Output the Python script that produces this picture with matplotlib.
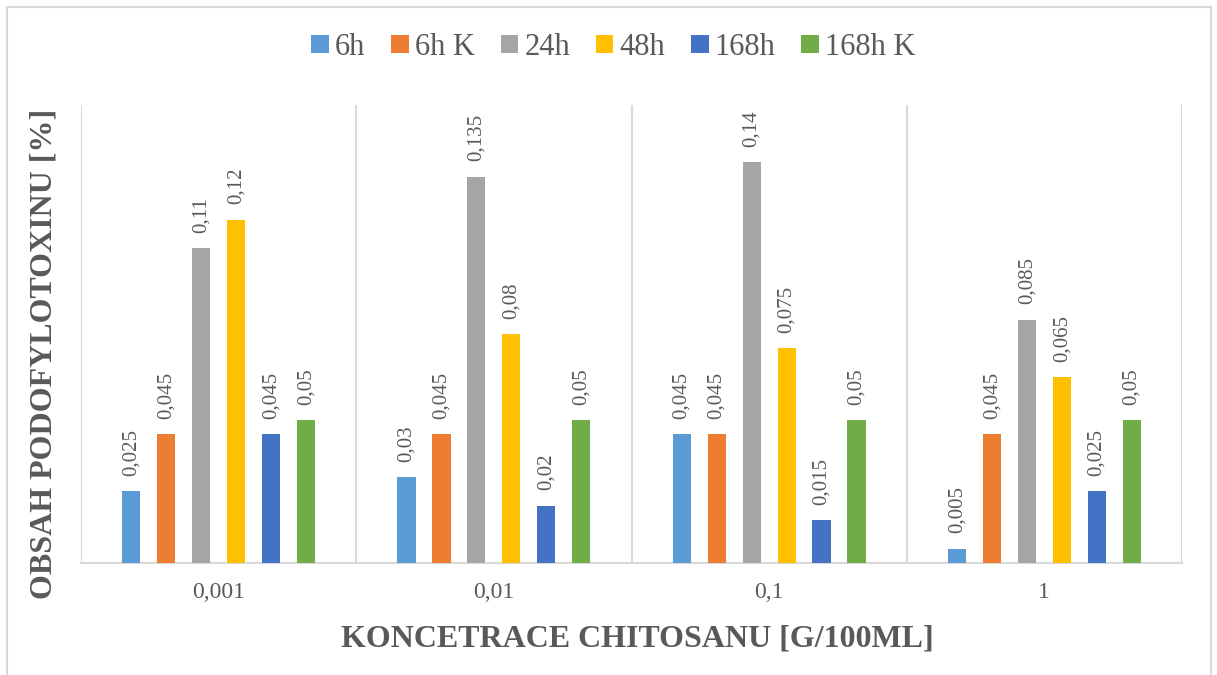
import matplotlib.pyplot as plt
import matplotlib.patches as mpatches
import numpy as np

plt.rcParams['font.family'] = ['Liberation Serif', 'DejaVu Serif']

# concentrations of chitosan (g/100ml)
categories = ['0,001', '0,01', '0,1', '1']
series = ['6h', '6h K', '24h', '48h', '168h', '168h K']

v_6h = [0.025, 0.03, 0.045, 0.005]
v_6hk = [0.045, 0.045, 0.045, 0.045]
v_24h = [0.11, 0.135, 0.14, 0.085]
v_48h = [0.12, 0.08, 0.075, 0.065]
v_168h = [0.045, 0.02, 0.015, 0.025]
v_168hk = [0.05, 0.05, 0.05, 0.05]

values = [v_6h, v_6hk, v_24h, v_48h, v_168h, v_168hk]
colors = ['#5B9BD5', '#ED7D31', '#A5A5A5', '#FFC000', '#4472C4', '#70AD47']
txt = '#595959'
grid = '#D9D9D9'

fig = plt.figure(figsize=(12.17, 6.75), dpi=100)
ax = fig.add_axes([0.0666, 0.1659, 0.9046, 0.6785])

# outer chart frame
fig.patches.append(mpatches.Rectangle((7 / 1217, -0.02), 1204 / 1217, 1.02 - 7 / 675,
                                      transform=fig.transFigure, fill=False,
                                      edgecolor=grid, linewidth=1.5))

x = np.arange(len(categories)) + 0.5
step = 0.127
width = 0.066

for i, (name, vals, c) in enumerate(zip(series, values, colors)):
    pos = x + (i - 2.5) * step
    ax.bar(pos, vals, width, color=c, label=name, linewidth=0, zorder=3)
    for xp, v in zip(pos, vals):
        ax.annotate(str(v).replace('.', ','), (xp, v), xytext=(0, 11),
                    textcoords='offset points', rotation=90, ha='center',
                    va='bottom', fontsize=15, color=txt)

ax.set_xlim(0, 4)
ax.set_ylim(0, 0.16)
ax.set_yticks([])
ax.set_xticks(x)
ax.set_xticklabels(categories, fontsize=17, color=txt)
ax.tick_params(axis='x', length=0, pad=14)

# vertical separators between concentration groups
for xv in range(5):
    ax.axvline(xv, color=grid, linewidth=1.5, zorder=1)

for s in ['top', 'right', 'left']:
    ax.spines[s].set_visible(False)
ax.spines['bottom'].set_color(grid)
ax.spines['bottom'].set_linewidth(1.5)

fig.text(0.524, 0.054, 'KONCETRACE CHITOSANU [G/100ML]', ha='center', va='center',
         fontsize=23, fontweight='bold', color=txt)
fig.text(0.036, 0.476, 'OBSAH PODOFYLOTOXINU [%]', ha='center', va='center',
         rotation=90, fontsize=23, fontweight='bold', color=txt)

fig.legend(loc='center', bbox_to_anchor=(0.504, 0.930), ncol=6, frameon=False,
           fontsize=22, handlelength=0.57, handleheight=0.57, handletextpad=0.2,
           columnspacing=0.85, labelcolor=txt)

fig.savefig('out.png', dpi=100)
